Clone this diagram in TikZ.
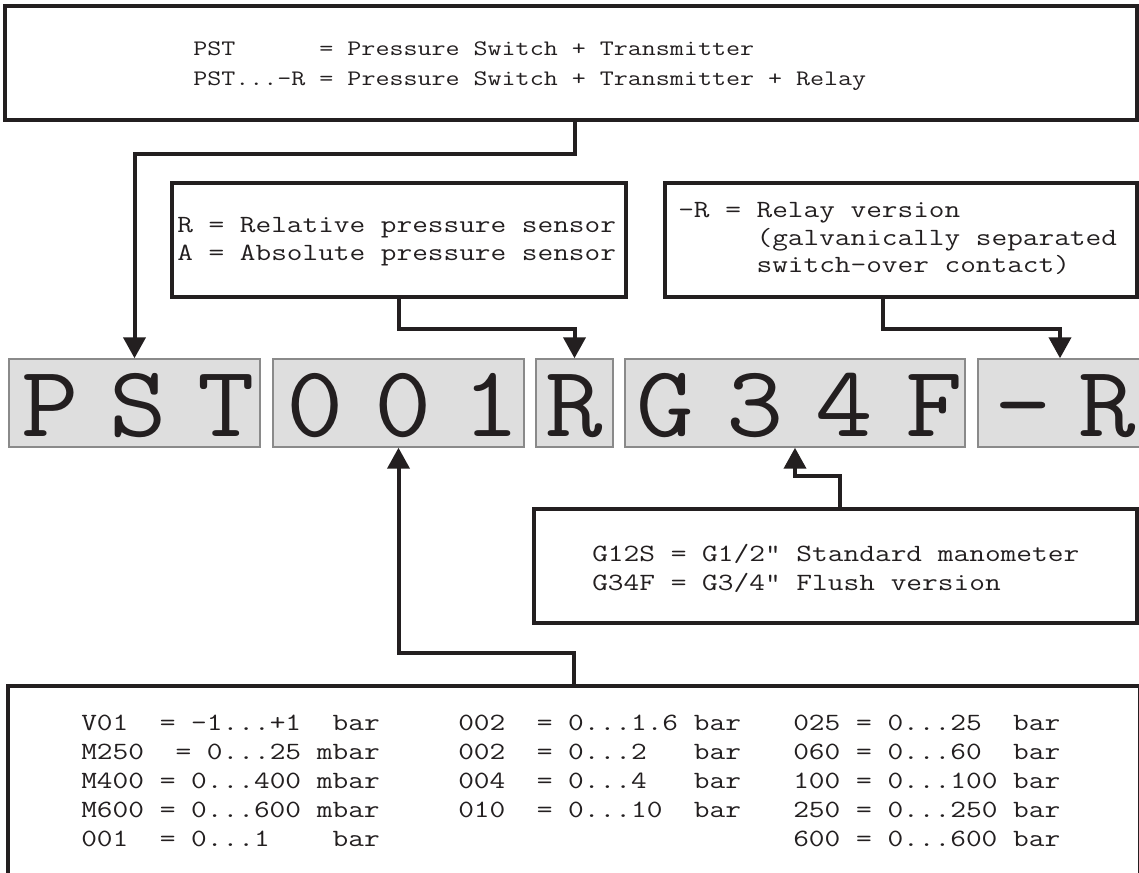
\documentclass[tikz,border=0pt]{standalone}
\usepackage{fontspec}
\newfontfamily\cour{Latin Modern Mono}[FakeStretch=1.23]
\newfontfamily\bigcour{Latin Modern Mono}[FakeStretch=1.1]
\usetikzlibrary{arrows.meta,fit,calc}
\definecolor{ink}{HTML}{231F20}
\definecolor{codefill}{HTML}{DEDEDE}
\definecolor{codeedge}{HTML}{8A8A8A}
\newcommand\monosize[1]{\cour\fontsize{#1}{#1}\selectfont\spaceskip=\fontcharwd\font`0\relax}
\tikzset{
  infobox/.style={draw=ink, line width=3.4pt, fill=white, inner sep=0pt},
  codebox/.style={draw=codeedge, line width=1.1pt, fill=codefill, inner sep=0pt},
  conn/.style={draw=ink, line width=3pt, -{Triangle[width=16.5pt,length=15.75pt]}},
  txt/.style={anchor=base west, inner sep=0pt, text=ink},
  toptxt/.style={txt, font=\monosize{16.6pt}},
  midtxt/.style={txt, font=\monosize{18.55pt}},
  lowtxt/.style={txt, font=\monosize{18.6pt}},
  codeletter/.style={anchor=base, inner sep=0pt, text=ink, font=\bigcour\fontsize{76pt}{76pt}\selectfont}
}
\begin{document}
\begin{tikzpicture}[x=0.75pt,y=-0.75pt]
\useasboundingbox (0,0) rectangle (1139,872);
\clip (0,0) rectangle (1139,872);
\fill[white] (0,0) rectangle (1139,872);

% information boxes
\node[infobox, fit={(5,6)(1137,120)}] (topbox) {};
\node[infobox, fit={(172,183)(626,297)}] (sensbox) {};
\node[infobox, fit={(665,183)(1137,297)}] (relaybox) {};
\node[infobox, fit={(534,509)(1137,623)}] (gbox) {};
\node[infobox, fit={(8,686)(1140,905)}] (rangebox) {};

% code boxes
\node[codebox, fit={(9,359)(260,447)}] (cPST) {};
\node[codebox, fit={(273,359)(524,447)}] (c001) {};
\node[codebox, fit={(536,359)(613,447)}] (cR) {};
\node[codebox, fit={(625,359)(965,447)}] (cG) {};
\node[codebox, fit={(978,359)(1142,447)}] (cRel) {};

% code letters
\node[codeletter] (lP) at (50,436) {P};
\node[codeletter] (lS) at (138,436) {S};
\node[codeletter] (lT) at (226,436) {T};
\node[codeletter] (l0a) at (315,436) {0};
\node[codeletter] (l0b) at (403,436) {0};
\node[codeletter] (l1) at (491,436) {1};
\node[codeletter] (lR) at (574.5,436) {R};
\node[codeletter] (lG) at (665,436) {G};
\node[codeletter] (l3) at (755,436) {3};
\node[codeletter] (l4) at (844,436) {4};
\node[codeletter] (lF) at (934,436) {F};
\node[codeletter] (lm) at (1023,436) {-};
\node[codeletter] (lR2) at (1107,436) {R};

% texts
\node[toptxt] (t1) at (193,55) {PST~~~~~~=~Pressure~Switch~+~Transmitter};
\node[toptxt] (t2) at (193,85) {PST...-R~=~Pressure~Switch~+~Transmitter~+~Relay};

\node[midtxt] (s1) at (177,232) {R~=~Relative~pressure~sensor};
\node[midtxt] (s2) at (177,260) {A~=~Absolute~pressure~sensor};

\node[midtxt] (r1) at (678,217) {-R~=~Relay~version};
\node[midtxt] (r2) at (678,245) {~~~~~(galvanically~separated};
\node[midtxt] (r3) at (678,272) {~~~~~switch-over~contact)};

\node[lowtxt] (g1) at (592,561) {G12S~=~G1/2”~Standard~manometer};
\node[lowtxt] (g2) at (592,590) {G34F~=~G3/4”~Flush~version};

\node[lowtxt] (a1) at (81,730) {V01~~=~-1...+1~~bar};
\node[lowtxt] (a2) at (81,759) {M250~~=~0...25~mbar};
\node[lowtxt] (a3) at (81,788) {M400~=~0...400~mbar};
\node[lowtxt] (a4) at (81,817) {M600~=~0...600~mbar};
\node[lowtxt] (a5) at (81,846) {001~~=~0...1~~~~bar};

\node[lowtxt] (b1) at (458,730) {002~~=~0...1.6~bar};
\node[lowtxt] (b2) at (458,759) {002~~=~0...2~~~bar};
\node[lowtxt] (b3) at (458,788) {004~~=~0...4~~~bar};
\node[lowtxt] (b4) at (458,817) {010~~=~0...10~~bar};

\node[lowtxt] (c1) at (793,730) {025~=~0...25~~bar};
\node[lowtxt] (c2) at (793,759) {060~=~0...60~~bar};
\node[lowtxt] (c3) at (793,788) {100~=~0...100~bar};
\node[lowtxt] (c4) at (793,817) {250~=~0...250~bar};
\node[lowtxt] (c5) at (793,846) {600~=~0...600~bar};

% connectors
\draw[conn] (cR.north |- topbox.south) -- ++(0,32) -| (cPST.north);
\draw[conn] (sensbox.south) -- ++(0,30) -| (cR.north);
\draw[conn] ($(relaybox.south)+(-18,0)$) -- ++(0,30) -| (cRel.north);
\draw[conn] ($(gbox.north)+(4,0)$) -- ++(0,-31) -| (cG.south);
\draw[conn] (rangebox.north) -- ++(0,-31) -| (c001.south);
\end{tikzpicture}
\end{document}
